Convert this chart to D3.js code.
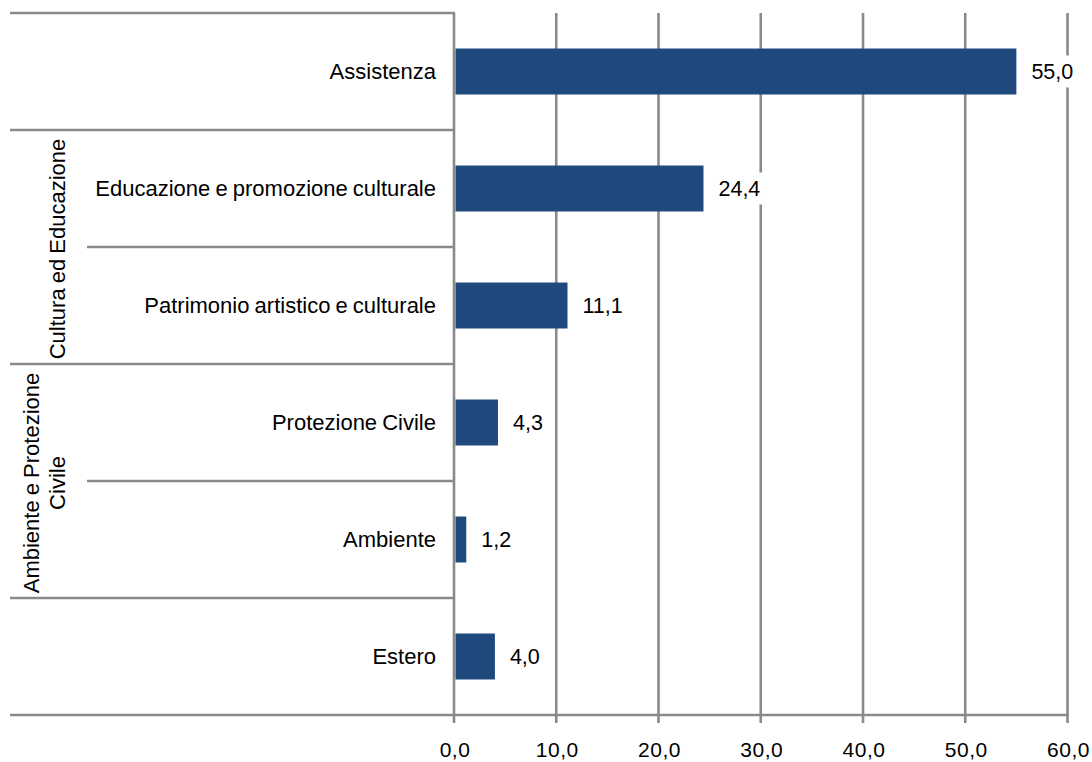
<!DOCTYPE html>
<html>
<head>
<meta charset="utf-8">
<script src="https://cdn.jsdelivr.net/npm/d3@7"></script>
<style>
  html, body { margin: 0; padding: 0; background: #fff; }
  svg { display: block; font-family: "Liberation Sans", Arial, sans-serif; }
</style>
</head>
<body>
<svg id="chart" width="1092" height="762"></svg>
<script>
const categories = ["Assistenza", "Educazione e promozione culturale", "Patrimonio artistico e culturale", "Protezione Civile", "Ambiente", "Estero"];
const values = [55.0, 24.4, 11.1, 4.3, 1.2, 4.0];
const groupLabels = [["Cultura ed Educazione"], ["Ambiente e Protezione", "Civile"]];
const groupStart = [1, 3];
const groupEnd = [2, 4];
const tickValues = [0, 10, 20, 30, 40, 50, 60];

const W = 1092, H = 762;
const gridColor = "#8a8a8a";
const barColor = "#1f497d";
const svg = d3.select("#chart");

const x = d3.scaleLinear().domain([0, 60]).range([454, 1067.5]);
const y = d3.scaleBand().domain(d3.range(categories.length)).range([13, 715]).padding(0);
const barH = y.bandwidth() * 0.393;
const fmt = v => d3.format(".1f")(v).replace(".", ",");

// vertical gridlines
svg.append("g").selectAll("line").data(tickValues).join("line")
  .attr("x1", d => x(d)).attr("x2", d => x(d))
  .attr("y1", y.range()[0]).attr("y2", y.range()[1] + 8)
  .attr("stroke", gridColor).attr("stroke-width", 2.6);

// horizontal separators
const boundaries = d3.range(categories.length + 1);
function isInternal(i) {
  for (let g = 0; g < groupStart.length; g++) {
    if (i > groupStart[g] && i <= groupEnd[g]) return true;
  }
  return false;
}
svg.append("g").selectAll("line").data(boundaries).join("line")
  .attr("x1", d => isInternal(d) ? 87 : 10)
  .attr("x2", d => d === categories.length ? x(60) + 1 : x(0) + 1)
  .attr("y1", d => y.range()[0] + d * y.step())
  .attr("y2", d => y.range()[0] + d * y.step())
  .attr("stroke", gridColor).attr("stroke-width", 2.6);

// bars
svg.append("g").selectAll("rect").data(values).join("rect")
  .attr("x", x(0) + 1.5)
  .attr("y", (d, i) => y(i) + y.bandwidth() / 2 - barH / 2)
  .attr("width", d => x(d) - x(0) - 1.5)
  .attr("height", barH)
  .attr("fill", barColor);

// value labels with white backing
const vl = svg.append("g");
values.forEach((v, i) => {
  const cy = y(i) + y.bandwidth() / 2;
  const t = vl.append("text")
    .attr("x", x(v) + 15)
    .attr("y", cy + 7.5)
    .attr("font-size", 21.5)
    .attr("fill", "#000")
    .text(fmt(v));
  const bb = t.node().getBBox();
  vl.insert("rect", "text")
    .attr("x", bb.x - 6).attr("y", cy - 16)
    .attr("width", bb.width + 12).attr("height", 32)
    .attr("fill", "#fff");
});

// category labels
svg.append("g").selectAll("text").data(categories).join("text")
  .attr("x", x(0) - 18)
  .attr("y", (d, i) => y(i) + y.bandwidth() / 2 + 7.5)
  .attr("text-anchor", "end")
  .attr("font-size", 22)
  .attr("word-spacing", -1)
  .attr("fill", "#000")
  .text(d => d);

// group labels (rotated)
groupLabels.forEach((lines, g) => {
  const cy = (y(groupStart[g]) + y(groupEnd[g]) + y.bandwidth()) / 2 + 2;
  lines.forEach((ln, j) => {
    const bx = 65 - (lines.length - 1 - j) * 26;
    svg.append("text")
      .attr("transform", `translate(${bx},${cy}) rotate(-90)`)
      .attr("text-anchor", "middle")
      .attr("font-size", 22)
      .attr("word-spacing", -1)
      .attr("fill", "#000")
      .text(ln);
  });
});

// tick labels
svg.append("g").selectAll("text").data(tickValues).join("text")
  .attr("x", d => x(d) + 1)
  .attr("y", 757)
  .attr("text-anchor", "middle")
  .attr("font-size", 21)
  .attr("letter-spacing", 0.5)
  .attr("fill", "#000")
  .text(d => fmt(d));
</script>
</body>
</html>
